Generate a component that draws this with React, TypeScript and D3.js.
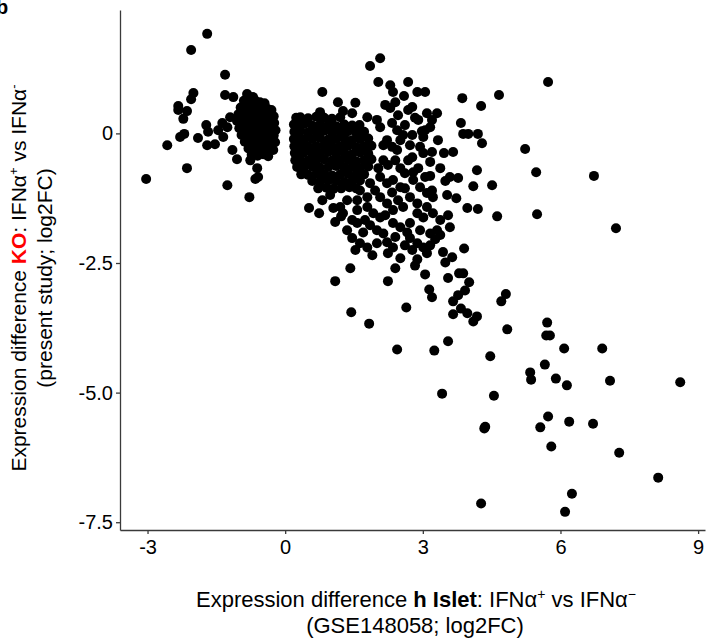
import React, { useEffect, useRef } from 'react';
import { select, scaleLinear, axisLeft, axisBottom } from 'd3';

// x: log2FC h Islet (GSE148058), y: log2FC KO (present study)
const leftOutliers: [number, number][] = [
  [-3.03, -0.88], [-2.57, -0.23], [-2.14, -0.67], [-1.26, -1.0], [-0.78, -1.23], [-1.7, 1.92],
  [-2.05, 1.61], [-1.31, 1.13], [-2.0, 0.78], [-2.05, 0.66], [-1.31, 0.74], [-2.33, 0.53],
  [-2.14, 0.43], [-2.33, 0.45], [-2.22, 0.28], [-1.72, 0.16], [-1.68, 0.03], [-2.29, -0.07],
  [-2.2, -0.01], [-1.9, -0.09], [-1.7, -0.23], [-1.53, -0.21], [-1.37, 0.2], [-1.46, 0.06],
  [-1.35, -0.07], [-1.2, 0.31], [-1.26, 0.12], [-1.15, -0.32], [-1.05, -0.5], [-0.76, -0.52],
  [-0.61, -0.67], [-0.59, -0.84], [-0.65, -0.88], [-1.13, 0.7], [-0.83, 0.76], [-0.7, 0.7],
];

const leftCore: [number, number][] = [
  [-0.9, 0.63], [-0.78, 0.61], [-0.66, 0.64], [-0.55, 0.6], [-0.45, 0.58],
  [-0.97, 0.5], [-0.85, 0.49], [-0.73, 0.51], [-0.61, 0.48], [-0.5, 0.5], [-0.38, 0.47], [-0.3, 0.45],
  [-1.02, 0.37], [-0.9, 0.36], [-0.79, 0.38], [-0.67, 0.35], [-0.55, 0.37], [-0.44, 0.34], [-0.33, 0.36], [-0.25, 0.33],
  [-1.05, 0.24], [-0.93, 0.22], [-0.81, 0.25], [-0.7, 0.23], [-0.58, 0.21], [-0.47, 0.24], [-0.36, 0.22], [-0.24, 0.2],
  [-1.0, 0.1], [-0.88, 0.09], [-0.76, 0.11], [-0.64, 0.08], [-0.52, 0.1], [-0.41, 0.07], [-0.29, 0.09], [-0.21, 0.06],
  [-0.95, -0.03], [-0.83, -0.04], [-0.71, -0.02], [-0.59, -0.05], [-0.47, -0.03], [-0.36, -0.06], [-0.25, -0.04],
  [-0.88, -0.16], [-0.76, -0.17], [-0.64, -0.15], [-0.53, -0.18], [-0.41, -0.16], [-0.3, -0.19], [-0.22, -0.17],
  [-0.8, -0.29], [-0.68, -0.3], [-0.57, -0.28], [-0.45, -0.31], [-0.34, -0.29], [-0.26, -0.32],
  [-0.73, -0.41], [-0.6, -0.43], [-0.48, -0.4], [-0.37, -0.44],
];

const centerCore: [number, number][] = [
  [0.24, 0.3], [0.33, 0.31], [0.5, 0.29], [0.68, 0.32], [0.85, 0.3], [1.02, 0.28], [1.2, 0.31],
  [0.19, 0.17], [0.3, 0.16], [0.41, 0.18], [0.59, 0.15], [0.76, 0.17], [0.94, 0.16], [1.11, 0.14], [1.29, 0.17], [1.46, 0.15], [1.62, 0.16],
  [0.2, 0.03], [0.33, 0.04], [0.5, 0.02], [0.68, 0.03], [0.85, 0.05], [1.02, 0.02], [1.2, 0.03], [1.37, 0.04], [1.55, 0.01], [1.72, 0.03],
  [0.19, -0.11], [0.28, -0.1], [0.41, -0.12], [0.59, -0.11], [0.76, -0.09], [0.94, -0.12], [1.11, -0.11], [1.29, -0.1], [1.46, -0.13], [1.63, -0.11], [1.81, -0.1],
  [0.2, -0.25], [0.33, -0.24], [0.5, -0.26], [0.68, -0.25], [0.85, -0.23], [1.02, -0.26], [1.2, -0.25], [1.37, -0.24], [1.55, -0.27], [1.72, -0.25], [1.88, -0.24],
  [0.21, -0.38], [0.3, -0.4], [0.41, -0.37], [0.59, -0.39], [0.76, -0.38], [0.94, -0.36], [1.11, -0.39], [1.29, -0.38], [1.46, -0.4], [1.63, -0.37], [1.81, -0.39],
  [0.22, -0.52], [0.33, -0.51], [0.5, -0.53], [0.68, -0.52], [0.85, -0.5], [1.02, -0.53], [1.2, -0.52], [1.37, -0.51], [1.55, -0.54], [1.72, -0.52], [1.88, -0.5],
  [0.26, -0.65], [0.41, -0.66], [0.59, -0.64], [0.76, -0.66], [0.94, -0.65], [1.11, -0.63], [1.29, -0.66], [1.46, -0.65], [1.63, -0.67], [1.81, -0.64],
  [0.35, -0.79], [0.5, -0.8], [0.68, -0.78], [0.85, -0.79], [1.02, -0.81], [1.2, -0.79], [1.37, -0.78], [1.55, -0.8], [1.72, -0.79],
  [0.59, -0.92], [0.76, -0.93], [0.94, -0.91], [1.11, -0.92], [1.29, -0.94], [1.46, -0.92], [1.63, -0.91],
  [0.72, -1.06], [0.9, -1.05], [1.05, -1.07], [1.22, -1.06], [1.4, -1.04], [1.55, -1.06],
];

const centerSpread: [number, number][] = [
  [2.07, 1.45], [1.85, 1.3], [0.81, 0.8], [2.03, 0.99], [2.29, 0.93], [2.35, 0.8], [2.68, 0.99], [2.88, 0.8],
  [3.05, 0.8], [2.59, 0.72], [2.4, 0.6], [2.29, 0.49], [2.68, 0.45], [2.77, 0.51], [2.83, 0.3], [3.09, 0.39],
  [3.31, 0.39], [1.15, 0.6], [1.53, 0.59], [1.26, 0.43], [1.46, 0.39], [0.76, 0.41], [1.79, 0.31], [2.0, 0.26],
  [2.07, 0.12], [2.33, 0.2], [2.44, 0.06], [2.57, -0.03], [2.51, -0.13], [3.05, 0.06], [3.01, -0.07], [2.98, 0.04],
  [3.16, 0.12], [2.22, -0.13], [2.33, -0.26], [2.44, -0.32], [2.68, -0.52], [2.77, -0.46], [2.94, -0.26], [3.01, -0.38],
  [3.2, -0.36], [3.46, -0.38], [3.66, -0.36], [2.14, -0.52], [2.24, -0.61], [2.51, -0.67], [2.61, -0.77], [2.79, -0.75],
  [3.16, -0.82], [2.35, -0.9], [2.51, -1.04], [2.07, -0.84], [2.22, -0.96], [2.79, -0.9], [2.94, -1.04], [3.05, -0.84],
  [3.49, -0.92], [3.59, -0.84], [3.77, -0.86], [2.72, -1.23], [2.88, -1.35], [3.09, -1.15], [3.2, -1.1], [3.22, -1.23],
  [3.53, -1.19], [3.73, -1.25], [2.46, -1.29], [2.57, -1.42], [2.07, -1.23], [2.22, -1.35], [2.35, -1.48], [1.79, -1.42],
  [1.92, -1.54], [2.07, -1.62], [2.88, -1.54], [3.01, -1.62], [3.09, -1.42], [3.22, -1.54], [3.38, -1.67], [3.55, -1.58],
  [2.35, -1.73], [2.51, -1.81], [2.66, -1.91], [2.72, -1.73], [2.94, -1.87], [2.0, -1.87], [2.14, -1.93], [1.57, -1.73],
  [1.7, -1.91], [1.35, -1.87], [1.46, -2.02], [1.63, -2.12], [1.79, -2.2], [2.0, -2.12], [2.22, -2.1], [2.35, -2.2],
  [2.88, -2.12], [3.01, -2.2], [3.16, -1.93], [3.27, -2.04], [3.31, -1.87], [3.59, -1.81], [3.9, -2.22], [1.09, -1.71],
  [1.26, -1.54], [1.57, -1.48], [1.2, -1.42], [1.35, -1.29], [1.57, -1.29], [1.79, -1.23], [1.63, -1.1], [1.85, -0.96],
  [0.52, -1.44], [0.74, -1.54], [1.22, -1.6], [1.74, -1.67], [2.24, -2.31], [2.51, -2.41], [2.77, -2.25], [3.09, -2.31],
  [2.88, -2.43], [3.44, -2.29], [3.64, -2.39],
  [2.18, 0.55], [2.46, 0.35], [2.61, 0.16], [2.77, -0.03], [2.9, 0.26], [3.2, 0.26], [3.33, -0.13], [2.72, -0.23],
  [2.4, -0.52], [2.9, -0.67], [3.16, -0.55], [3.38, -0.67], [2.14, -0.23], [2.03, -0.67], [1.96, -1.1], [2.33, -1.14],
  [2.61, -1.06], [0.98, -1.19], [0.81, -1.29], [1.05, -1.44], [1.46, -1.67], [1.85, -1.77], [2.18, -1.58], [2.4, -2.0],
  [2.61, -2.16], [1.9, -2.35], [1.53, -2.25], [2.72, -2.02], [3.16, -2.16], [3.38, -1.96], [3.49, -2.49], [2.83, -2.55],
  [2.4, -2.6],
];

const midLower: [number, number][] = [
  [1.42, -2.6], [1.09, -2.85], [2.24, -2.85], [3.05, -2.72], [3.55, -2.79], [3.79, -2.7], [3.88, -2.7], [4.01, -2.87],
  [3.14, -3.01], [3.2, -3.16], [3.92, -3.03], [3.77, -3.12], [3.66, -3.24], [4.81, -3.1], [4.71, -3.24], [3.83, -3.38],
  [3.97, -3.47], [3.66, -3.49], [4.18, -3.53], [4.1, -3.63], [1.44, -3.45], [1.83, -3.67], [2.64, -3.36], [4.84, -3.78],
  [3.55, -4.01], [2.44, -4.17], [3.25, -4.19],
];

const upperRight: [number, number][] = [
  [3.83, 0.2], [3.88, -0.01], [3.99, -0.01], [4.2, -0.01], [4.29, -0.19], [5.23, -0.3], [4.18, -0.71], [5.47, -0.75],
  [4.1, -1.02], [4.51, -1.0], [3.97, -1.44], [4.2, -1.46], [4.62, -1.6], [5.49, -1.56], [5.73, 0.99], [4.66, 0.74],
  [3.86, 0.68], [4.27, 0.53], [6.73, -0.82], [7.21, -1.83],
];

const lowerRight: [number, number][] = [
  [5.71, -3.65], [5.69, -3.9], [5.77, -3.9], [6.08, -4.15], [6.91, -4.15], [4.47, -4.3], [5.66, -4.46], [5.34, -4.61],
  [5.36, -4.75], [5.9, -4.73], [6.14, -4.86], [7.08, -4.77], [8.61, -4.8], [3.42, -5.02], [4.55, -5.06], [5.73, -5.46],
  [6.19, -5.56], [6.71, -5.6], [4.36, -5.66], [4.34, -5.69], [5.56, -5.67], [5.8, -6.04], [7.28, -6.16], [8.13, -6.64],
  [6.25, -6.95], [4.27, -7.14], [6.1, -7.3],
];

const xTicks = [-3, 0, 3, 6, 9];
const xTickLabels = ['-3', '0', '3', '6', '9'];
const yTicks = [0, -2.5, -5, -7.5];
const yTickLabels = ['0', '-2.5', '-5.0', '-7.5'];

const FONT = "'Liberation Sans', Arial, sans-serif";

export default function App() {
  const ref = useRef<SVGSVGElement>(null);

  useEffect(() => {
    const svg = select(ref.current);
    svg.selectAll('*').remove();

    const x = scaleLinear().domain([-3.6, 9.15]).range([120, 705]);
    const y = scaleLinear().domain([-7.65, 2.38]).range([530, 10]);

    const points = [
      ...leftOutliers, ...leftCore, ...centerCore, ...centerSpread,
      ...midLower, ...upperRight, ...lowerRight,
    ];

    svg.append('g')
      .selectAll('circle')
      .data(points)
      .enter()
      .append('circle')
        .attr('cx', d => x(d[0]))
        .attr('cy', d => y(d[1]))
        .attr('r', 5)
        .attr('fill', '#000');

    const styleAxis = (g) => {
      g.attr('font-family', FONT).attr('font-size', 20);
      g.select('.domain').attr('stroke', '#3a3a3a').attr('stroke-width', 1.3);
      g.selectAll('.tick line').attr('stroke', '#3a3a3a').attr('stroke-width', 1.3);
      g.selectAll('.tick text').attr('fill', '#000');
    };

    svg.append('g')
      .attr('transform', 'translate(0,530)')
      .call(axisBottom(x).tickValues(xTicks).tickFormat((d, i) => xTickLabels[i])
        .tickSize(4).tickSizeOuter(0).tickPadding(6))
      .call(styleAxis);

    svg.append('g')
      .attr('transform', 'translate(120,0)')
      .call(axisLeft(y).tickValues(yTicks).tickFormat((d, i) => yTickLabels[i])
        .tickSize(4).tickSizeOuter(0).tickPadding(3))
      .call(styleAxis);

    // x title
    const xt = svg.append('text')
      .attr('x', 416).attr('y', 607)
      .attr('text-anchor', 'middle')
      .attr('font-family', FONT).attr('font-size', 22).attr('fill', '#000');
    xt.append('tspan').text('Expression difference ');
    xt.append('tspan').attr('font-weight', 'bold').text('h Islet');
    xt.append('tspan').text(': IFN\u03b1');
    xt.append('tspan').attr('font-size', 14).attr('dy', -8).text('+');
    xt.append('tspan').attr('dy', 8).text(' vs IFN\u03b1');
    xt.append('tspan').attr('font-size', 14).attr('dy', -8).text('\u2212');
    svg.append('text')
      .attr('x', 415).attr('y', 633)
      .attr('text-anchor', 'middle')
      .attr('font-family', FONT).attr('font-size', 22).attr('fill', '#000')
      .text('(GSE148058; log2FC)');

    // y title
    const yg = svg.append('g').attr('transform', 'translate(26,278) rotate(-90)');
    const yt = yg.append('text')
      .attr('text-anchor', 'middle')
      .attr('font-family', FONT).attr('font-size', 21).attr('fill', '#000');
    yt.append('tspan').text('Expression difference ');
    yt.append('tspan').attr('font-weight', 'bold').attr('fill', '#f00').text('KO');
    yt.append('tspan').text(': IFN\u03b1');
    yt.append('tspan').attr('font-size', 13).attr('dy', -8).text('+');
    yt.append('tspan').attr('dy', 8).text(' vs IFN\u03b1');
    yt.append('tspan').attr('font-size', 13).attr('dy', -8).text('-');
    yg.append('text')
      .attr('y', 26)
      .attr('text-anchor', 'middle')
      .attr('font-family', FONT).attr('font-size', 21).attr('fill', '#000')
      .text('(present study; log2FC)');

    // panel letter, cut at the edge as in the figure
    svg.append('text')
      .attr('x', -4).attr('y', 14)
      .attr('font-family', FONT).attr('font-size', 20).attr('font-weight', 'bold')
      .text('b');
  }, []);

  return (
    <svg ref={ref} width={707} height={639}
      style={{ position: 'absolute', left: 0, top: 0, background: '#fff' }} />
  );
}
